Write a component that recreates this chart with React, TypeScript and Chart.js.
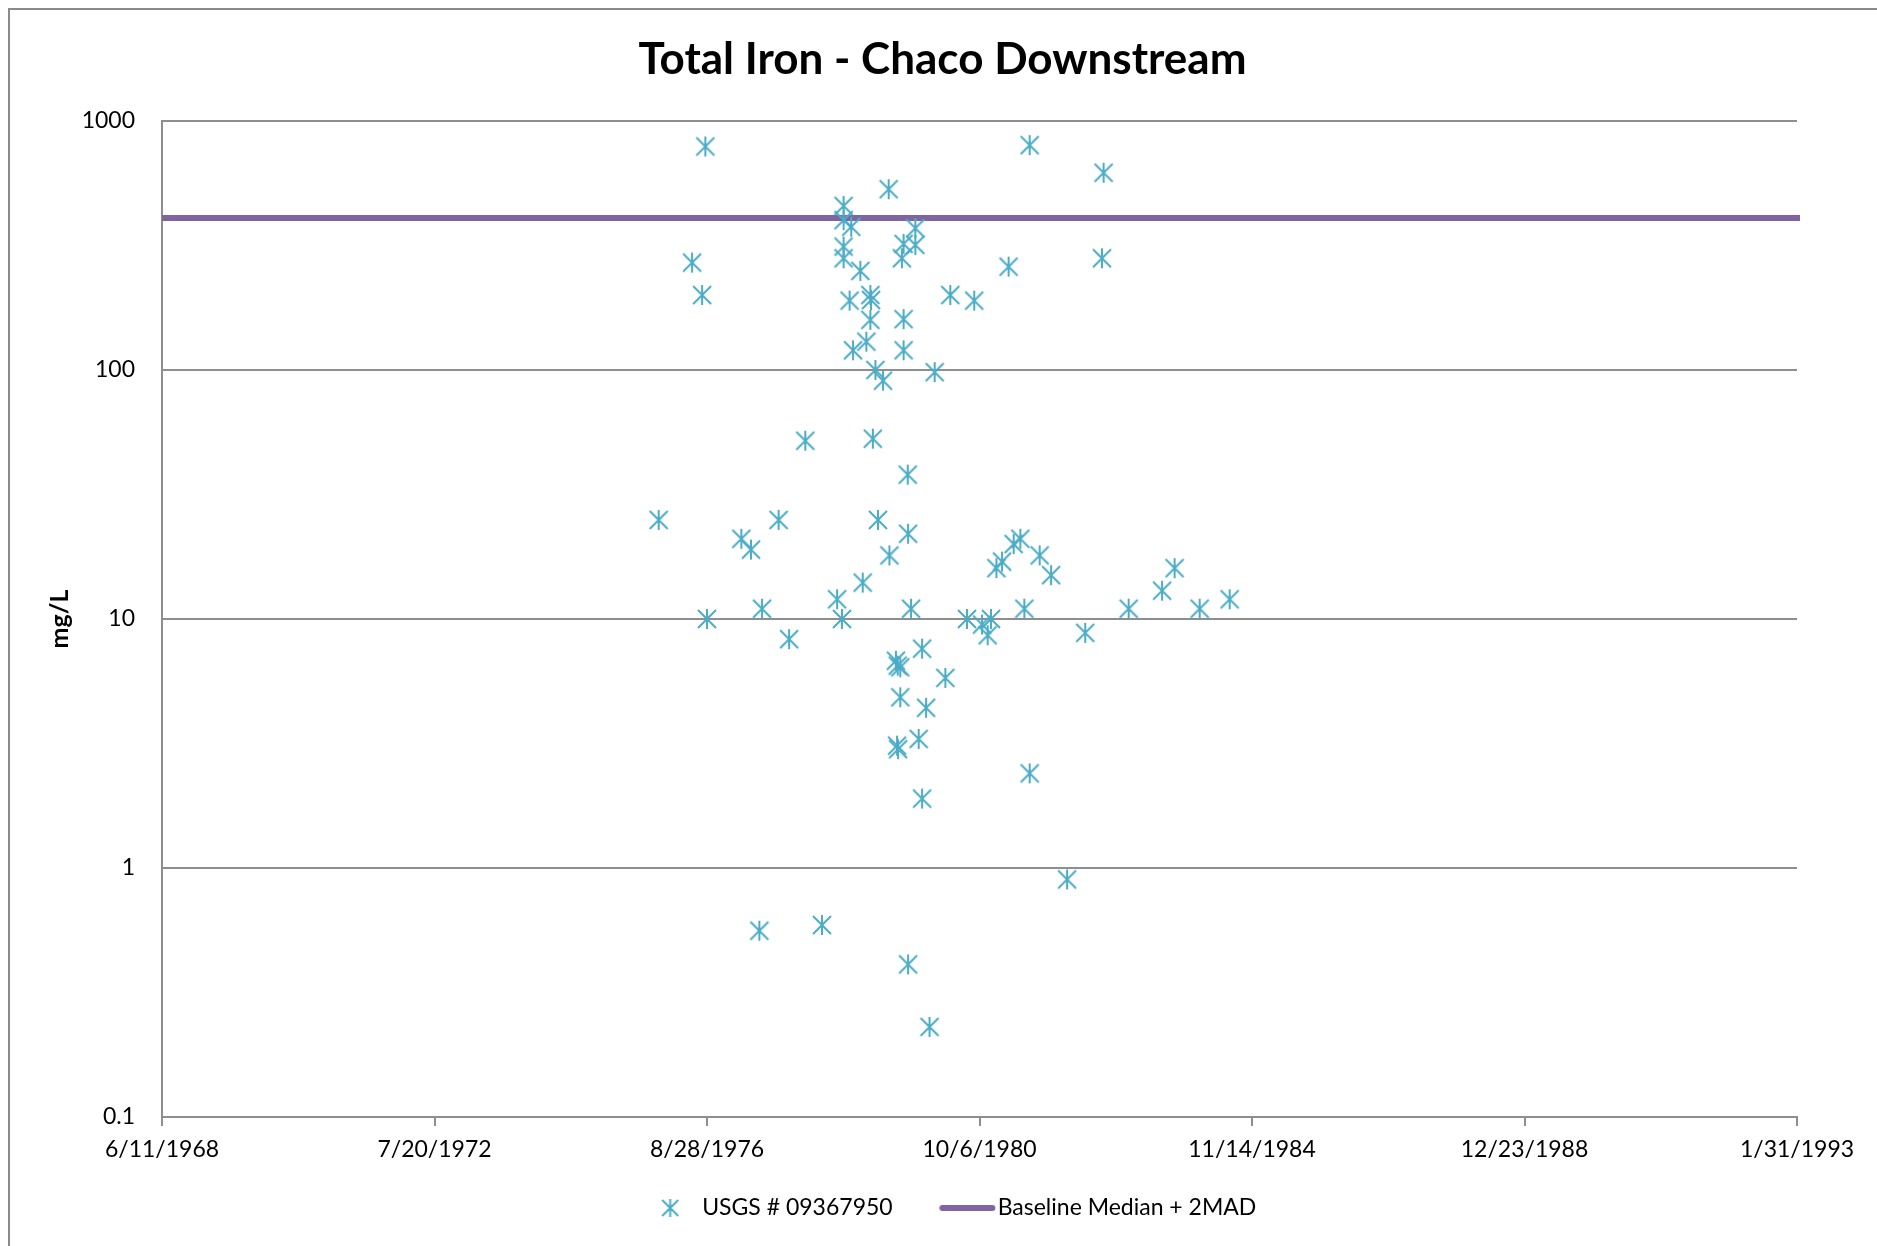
import React, { useEffect, useRef } from "react";
import { Chart, registerables } from "chart.js";

Chart.register(...registerables);

const CHART_TITLE = "Total Iron - Chaco Downstream";
const Y_AXIS_TITLE = "mg/L";
const SERIES_LABEL = "USGS # 09367950";
const BASELINE_LABEL = "Baseline Median + 2MAD";

// Sample dates as spreadsheet (Excel) day serial numbers
const sampleDays = [
  27734, 27918, 27973, 27991, 28000, 28189, 28242, 28288, 28303, 28394,
  28452, 28541, 28633, 28716, 28743, 28752, 28752, 28752, 28752, 28785,
  28794, 28804, 28844, 28857, 28877, 28899, 28903, 28899, 28913, 28927,
  28941, 28969, 29000, 29004, 29040, 29050, 29064, 29046, 29052, 29064,
  29073, 29082, 29082, 29082, 29105, 29107, 29107, 29123, 29147, 29147,
  29165, 29184, 29184, 29206, 29225, 29253, 29312, 29339, 29431, 29471,
  29514, 29545, 29563, 29593, 29624, 29660, 29688, 29725, 29747, 29776,
  29776, 29831, 29894, 29982, 30082, 30174, 30183, 30321, 30505, 30574,
  30712, 30877,
];

// Total iron, mg/L
const ironValues = [
  25, 270, 200, 790, 10, 21, 19, 0.56, 11, 25,
  8.3, 52, 0.59, 12, 10, 456, 400, 313, 281, 190,
  376, 120, 250, 14, 130, 200, 191, 159, 53, 100,
  25, 90.6, 532, 18, 6.8, 6.5, 6.4, 3.1, 3.0, 4.85,
  281, 321, 160, 120, 38, 22, 0.41, 11, 371, 318,
  3.3, 7.6, 1.9, 4.4, 0.23, 98, 5.8, 200, 10, 190,
  9.5, 8.6, 10, 16, 17, 260, 20, 21, 11, 800,
  2.4, 18, 15, 0.9, 8.8, 281, 620, 11, 13, 16,
  11, 12,
];

const baselineValue = 408;
const xRangeDays = [25000, 34000];
const xTickDays = [25000, 26500, 28000, 29500, 31000, 32500, 34000];
const yTickValues = [0.1, 1, 10, 100, 1000];

const MARKER_COLOR = "#4bacc6";
const BASELINE_COLOR = "#8064a2";
const GRID_COLOR = "#8e8e8e";
const FONT = "Lato";

function serialToLabel(serial: number): string {
  const dt = new Date(Date.UTC(1899, 11, 30) + serial * 86400000);
  return `${dt.getUTCMonth() + 1}/${dt.getUTCDate()}/${dt.getUTCFullYear()}`;
}

function makeStar(w: number, h: number, cx: number, arm: number): HTMLCanvasElement {
  const c = document.createElement("canvas");
  c.width = w;
  c.height = h;
  const ctx = c.getContext("2d")!;
  const cy = h / 2;
  ctx.strokeStyle = MARKER_COLOR;
  ctx.lineWidth = 2;
  ctx.beginPath();
  ctx.moveTo(cx - arm, cy - arm);
  ctx.lineTo(cx + arm, cy + arm);
  ctx.moveTo(cx + arm, cy - arm);
  ctx.lineTo(cx - arm, cy + arm);
  ctx.moveTo(cx, cy - arm - 1);
  ctx.lineTo(cx, cy + arm + 1);
  ctx.stroke();
  return c;
}

function makeLineSwatch(w: number, h: number, x0: number, x1: number): HTMLCanvasElement {
  const c = document.createElement("canvas");
  c.width = w;
  c.height = h;
  const ctx = c.getContext("2d")!;
  ctx.strokeStyle = BASELINE_COLOR;
  ctx.lineWidth = 6;
  ctx.lineCap = "round";
  ctx.beginPath();
  ctx.moveTo(x0, h / 2);
  ctx.lineTo(x1, h / 2);
  ctx.stroke();
  return c;
}

export default function App() {
  const ref = useRef<HTMLCanvasElement>(null);

  useEffect(() => {
    const canvas = ref.current;
    if (!canvas) return;
    const star = makeStar(22, 22, 11, 9);
    const legendStar = makeStar(44, 22, 32.5, 8);
    const legendLine = makeLineSwatch(82, 10, 28.2, 78.2);

    const chart = new Chart(canvas, {
      type: "scatter",
      data: {
        datasets: [
          {
            type: "scatter",
            label: SERIES_LABEL,
            data: sampleDays.map((d, i) => ({ x: d, y: ironValues[i] })),
            pointStyle: star as any,
            pointRadius: 10,
            borderColor: MARKER_COLOR,
            backgroundColor: MARKER_COLOR,
            xAxisID: "x",
            yAxisID: "y",
          },
          {
            type: "line",
            label: BASELINE_LABEL,
            data: xRangeDays.map((d) => ({ x: d, y: baselineValue })),
            borderColor: BASELINE_COLOR,
            backgroundColor: BASELINE_COLOR,
            borderWidth: 6,
            borderCapStyle: "square",
            pointRadius: 0,
            showLine: true,
            fill: false,
            clip: { left: 0, right: 4, top: 4, bottom: 4 },
            xAxisID: "x",
            yAxisID: "y",
          } as any,
        ],
      },
      options: {
        responsive: false,
        animation: false,
        devicePixelRatio: 1,
        events: [],
        layout: { padding: { left: 0, right: 0, top: 0, bottom: 8.5 } },
        scales: {
          x: {
            type: "linear",
            position: "bottom",
            min: xRangeDays[0],
            max: xRangeDays[1],
            afterBuildTicks: (scale: any) => {
              scale.ticks = xTickDays.map((v) => ({ value: v }));
            },
            afterFit: (scale: any) => {
              scale.height = 48;
            },
            ticks: {
              callback: (v: any) => serialToLabel(Number(v)),
              font: { family: FONT, size: 23 },
              color: "#000",
              padding: 10,
              maxRotation: 0,
              autoSkip: false,
            },
            grid: {
              display: true,
              drawOnChartArea: false,
              drawTicks: true,
              tickLength: 9,
              color: GRID_COLOR,
              lineWidth: 2,
            },
            border: { display: true, color: GRID_COLOR, width: 2 },
          },
          y: {
            type: "logarithmic",
            position: "left",
            min: yTickValues[0],
            max: yTickValues[yTickValues.length - 1],
            afterBuildTicks: (scale: any) => {
              scale.ticks = yTickValues.map((v) => ({ value: v }));
            },
            afterFit: (scale: any) => {
              scale.width = 152;
            },
            ticks: {
              callback: (v: any) => String(v),
              font: { family: FONT, size: 23 },
              color: "#000",
              padding: 27,
              autoSkip: false,
            },
            grid: {
              display: true,
              drawOnChartArea: true,
              drawTicks: false,
              color: GRID_COLOR,
              lineWidth: 2,
            },
            border: { display: true, color: GRID_COLOR, width: 2 },
            title: {
              display: true,
              text: Y_AXIS_TITLE,
              font: { family: FONT, size: 25, weight: "bold" },
              color: "#000",
              padding: { top: 35, bottom: 0 },
            },
          },
          yPad: {
            type: "linear",
            position: "right",
            display: true,
            afterFit: (scale: any) => {
              scale.width = 78;
            },
            ticks: { display: false },
            grid: { display: false, drawTicks: false },
            border: { display: false },
          },
        },
        plugins: {
          title: {
            display: true,
            text: CHART_TITLE,
            font: { family: FONT, size: 44, weight: "bold" },
            color: "#000",
            padding: { top: 23.6, bottom: 34.6 },
          },
          legend: {
            display: true,
            position: "bottom",
            labels: {
              usePointStyle: true,
              pointStyleWidth: 62,
              padding: 31.5,
              color: "#000",
              font: { family: FONT, size: 23 },
              generateLabels: () => [
                {
                  text: SERIES_LABEL,
                  pointStyle: legendStar as any,
                  fillStyle: MARKER_COLOR,
                  strokeStyle: MARKER_COLOR,
                  lineWidth: 0,
                  hidden: false,
                  datasetIndex: 0,
                },
                {
                  text: BASELINE_LABEL,
                  pointStyle: legendLine as any,
                  fillStyle: BASELINE_COLOR,
                  strokeStyle: BASELINE_COLOR,
                  lineWidth: 0,
                  hidden: false,
                  datasetIndex: 1,
                },
              ],
            },
          },
          tooltip: { enabled: false },
        },
      } as any,
    });
    return () => chart.destroy();
  }, []);

  return (
    <div
      style={{
        position: "absolute",
        left: 8,
        top: 8,
        width: 1869,
        height: 1238,
        boxSizing: "border-box",
        borderLeft: "2px solid #8a8a8a",
        borderTop: "2px solid #8a8a8a",
        overflow: "hidden",
        background: "#fff",
      }}
    >
      <canvas
        ref={ref}
        width={1865}
        height={1228}
        style={{ display: "block", width: 1865, height: 1228 }}
      />
    </div>
  );
}
